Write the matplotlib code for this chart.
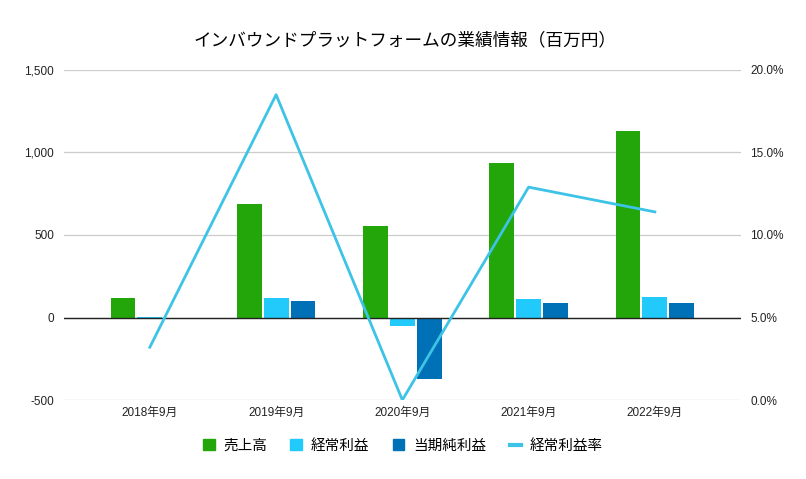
import matplotlib
matplotlib.use('Agg')
import matplotlib.pyplot as plt
import numpy as np

plt.rcParams['font.family'] = ['Liberation Sans', 'Noto Sans CJK JP']

# data (百万円)
years = ['2018年9月', '2019年9月', '2020年9月', '2021年9月', '2022年9月']
sales = [120, 685, 557, 939, 1133]
ord_profit = [1, 121, -53, 115, 127]
net_profit = [0, 103, -370, 89, 89]
ord_rate = [3.2, 18.5, 0.0, 12.9, 11.4]  # %

c_sales = '#22a60a'
c_ord = '#22c9fb'
c_net = '#0071b6'
c_rate = '#3cc3e6'

fig = plt.figure(figsize=(8.06, 4.79), dpi=100)
ax = fig.add_axes([0.0794, 0.1649, 0.8396, 0.689])
ax2 = ax.twinx()

x = np.arange(len(years))
w = 0.197
step = 0.213
ax.bar(x - step, sales, w, color=c_sales, zorder=3)
ax.bar(x, ord_profit, w, color=c_ord, zorder=3)
ax.bar(x + step, net_profit, w, color=c_net, zorder=3)

ax.set_xlim(-0.68, 4.68)
ax.set_ylim(-500, 1500)
ax.set_yticks([-500, 0, 500, 1000, 1500])
ax.set_yticklabels(['-500', '0', '500', '1,000', '1,500'])
ax.grid(axis='y', color='#cccccc', linewidth=0.9, zorder=0)
ax.axhline(0, color='#222222', linewidth=1.0, zorder=4)
ax.set_xticks(x)
ax.set_xticklabels(years)

ax2.plot(x, ord_rate, color=c_rate, linewidth=2, zorder=5)
ax2.set_ylim(0, 20)
ax2.set_yticks([0, 5, 10, 15, 20])
ax2.set_yticklabels(['0.0%', '5.0%', '10.0%', '15.0%', '20.0%'])

for a in (ax, ax2):
    for s in a.spines.values():
        s.set_visible(False)
    a.tick_params(length=0, labelsize=8.5, colors='#222222')
ax.tick_params(axis='y', pad=7)
ax2.tick_params(axis='y', pad=7)
ax.tick_params(axis='x', pad=5)
ax.set_zorder(ax2.get_zorder() - 1)
ax.patch.set_visible(False)
ax2.patch.set_visible(False)

fig.text(0.502, 0.915, 'インバウンドプラットフォームの業績情報（百万円）', ha='center', va='center',
         fontsize=12.7, family=['Noto Sans CJK JP'], color='#000000')

from matplotlib.patches import Patch
from matplotlib.lines import Line2D
handles = [Patch(color=c_sales), Patch(color=c_ord), Patch(color=c_net),
           Line2D([], [], color=c_rate, linewidth=3)]
labels = ['売上高', '経常利益', '当期純利益', '経常利益率']
fig.legend(handles, labels, loc='center', bbox_to_anchor=(0.5, 0.069), ncol=4, frameon=False,
           prop={'family': 'Noto Sans CJK JP', 'size': 10.5}, handlelength=0.8, handleheight=0.8,
           handletextpad=0.6, columnspacing=1.6)

fig.savefig('out.png', dpi=100, facecolor='white')
